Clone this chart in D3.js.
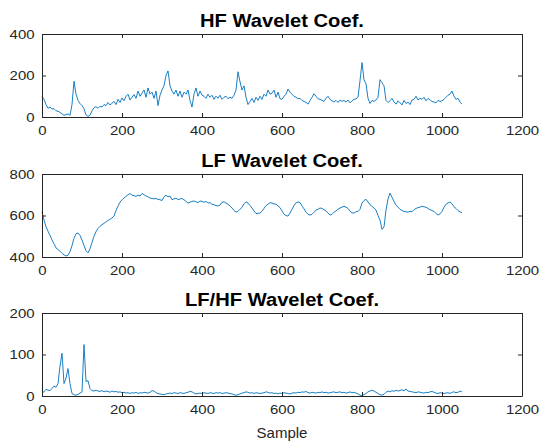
<!DOCTYPE html>
<html>
<head>
<meta charset="utf-8">
<script src="https://cdn.jsdelivr.net/npm/d3@7"></script>
<style>
  body { margin: 0; background: #fff; }
  text { font-family: "Liberation Sans", Arial, sans-serif; }
</style>
</head>
<body>
<script>
// one value every 5 samples
var sampleStep = 5;

var hfValues = [
  100,85,60,42,48,38,40,30,28,22,
  15,8,12,15,8,60,172,110,80,65,
  55,40,10,3,8,30,45,50,42,52,
  48,60,55,70,58,66,75,60,85,70,
  92,78,100,110,82,95,108,90,125,100,
  115,130,95,140,110,120,90,125,55,105,
  130,150,200,222,150,125,110,130,100,125,
  95,120,110,130,80,48,110,140,100,125,
  105,100,90,110,95,105,85,100,90,105,
  85,95,100,88,95,90,105,130,218,170,
  130,150,95,60,75,90,70,95,80,100,
  85,110,100,130,110,115,130,95,120,88,
  85,100,110,135,120,110,100,95,88,90,
  80,75,70,62,80,95,112,100,88,85,
  80,75,90,100,85,78,72,80,70,82,
  75,80,72,82,68,78,85,88,95,175,
  262,180,160,90,65,80,75,82,95,180,
  165,150,80,70,78,90,72,62,78,68,
  58,80,65,72,60,82,85,100,82,90,
  85,95,78,90,82,75,72,68,80,75,
  78,85,95,105,110,125,100,85,90,72,
  62
];

var lfValues = [
  618,578,546,524,504,482,464,444,436,428,
  418,410,405,408,425,455,490,512,516,504,
  482,455,430,420,440,470,500,522,538,548,
  556,562,570,576,582,588,598,624,645,664,
  676,684,692,700,706,698,696,692,698,694,
  706,700,694,690,684,682,680,682,678,676,
  672,690,698,690,694,676,680,684,676,680,
  682,676,668,660,664,668,670,666,662,670,
  668,664,668,660,662,654,652,648,646,650,
  664,666,660,654,646,636,624,616,620,630,
  640,656,666,660,648,636,622,610,610,612,
  620,634,648,654,662,660,656,654,646,638,
  622,606,600,597,612,630,648,661,665,662,
  646,632,616,606,602,606,616,626,630,636,
  634,628,622,612,602,606,616,622,630,636,
  640,645,640,634,622,612,612,618,620,630,
  660,672,678,665,652,644,636,626,600,578,
  533,545,626,680,708,688,668,650,640,630,
  624,620,618,616,620,618,628,634,638,640,
  645,642,640,634,628,624,620,610,602,608,
  620,640,654,660,665,656,642,634,624,618,
  613
];

var ratioValues = [
  8,10,16,14,13,18,24,21,30,72,
  103,30,43,66,30,6,3,2,4,7,
  10,124,35,37,18,13,12,14,12,11,
  13,10,12,11,9,12,10,11,9,10,
  8,9,7,8,6,8,7,9,6,8,
  7,9,8,7,9,13,12,8,6,5,
  4,3,5,6,7,6,8,7,6,8,
  7,6,8,9,11,10,7,5,6,7,
  6,8,7,6,8,7,6,8,7,8,
  6,7,8,7,6,5,3,2,3,5,
  7,8,10,9,7,8,6,8,7,6,
  7,8,10,9,7,8,6,7,5,7,
  6,8,7,6,5,7,8,7,9,8,
  10,9,11,8,7,9,8,7,9,8,
  10,8,9,7,8,9,10,8,9,10,
  8,9,7,8,10,8,9,7,5,2,
  1,3,6,10,12,14,12,9,6,3,
  2,4,9,12,10,13,11,14,12,13,
  15,12,17,12,11,10,9,8,10,9,
  8,7,9,8,10,11,9,7,6,8,
  7,6,7,8,6,9,10,8,9,12,
  10
];

var titles = ['HF Wavelet Coef.', 'LF Wavelet Coef.', 'LF/HF Wavelet Coef.'];
var xTicks = [0, 200, 400, 600, 800, 1000, 1200];
var hfTicks = [0, 200, 400];
var lfTicks = [400, 600, 800];
var ratioTicks = [0, 100, 200];
var xLabel = 'Sample';

var width = 539, height = 441;
var axLeft = 42, axRight = 522;
var panelTops = [34, 174, 313];
var panelBottoms = [117, 257, 396];
var axisColor = '#262626';
var lineColor = '#0072BD';
var textStretch = 1.15;
var titleStretch = 1.09;

var svg = d3.select('body').append('svg')
  .attr('width', width)
  .attr('height', height);

var x = d3.scaleLinear().domain([0, 1200]).range([axLeft, axRight]);
var fmt = d3.format('d');

var series = [hfValues, lfValues, ratioValues];
var yTickSets = [hfTicks, lfTicks, ratioTicks];

series.forEach(function(vals, i) {
  var ticks = yTickSets[i];
  var top = panelTops[i], bottom = panelBottoms[i];
  var y = d3.scaleLinear()
    .domain([ticks[0], ticks[ticks.length - 1]])
    .range([bottom, top]);

  var g = svg.append('g');

  // data line
  var line = d3.line()
    .x(function(d, j) { return x(j * sampleStep); })
    .y(function(d) { return y(d); });
  g.append('path')
    .datum(vals)
    .attr('d', line)
    .attr('fill', 'none')
    .attr('stroke', lineColor)
    .attr('stroke-width', 0.9);

  // axes, ticks inward like matlab
  var bottomAx = g.append('g')
    .attr('transform', 'translate(0,' + bottom + ')')
    .call(d3.axisBottom(x).tickValues(xTicks).tickFormat(fmt).tickSize(-4).tickSizeOuter(0).tickPadding(9));
  var topAx = g.append('g')
    .attr('transform', 'translate(0,' + top + ')')
    .call(d3.axisTop(x).tickValues(xTicks).tickSize(-4).tickSizeOuter(0).tickFormat(''));
  var leftAx = g.append('g')
    .attr('transform', 'translate(' + axLeft + ',0)')
    .call(d3.axisLeft(y).tickValues(ticks).tickFormat(fmt).tickSize(-4).tickSizeOuter(0));
  var rightAx = g.append('g')
    .attr('transform', 'translate(' + axRight + ',0)')
    .call(d3.axisRight(y).tickValues(ticks).tickSize(-4).tickSizeOuter(0).tickFormat(''));

  [bottomAx, topAx, leftAx, rightAx].forEach(function(a) {
    a.select('.domain').attr('stroke', axisColor);
    a.selectAll('.tick line').attr('stroke', axisColor);
  });

  bottomAx.selectAll('text')
    .attr('fill', axisColor)
    .style('font-size', '13px')
    .attr('transform', 'scale(' + textStretch + ',1)')
    .attr('x', 0);
  leftAx.selectAll('text')
    .attr('fill', axisColor)
    .style('font-size', '13px')
    .attr('x', 0)
    .attr('transform', 'translate(-7.5,0) scale(' + textStretch + ',1)');

  svg.append('text')
    .attr('transform', 'translate(' + ((axLeft + axRight) / 2) + ',' + (top - 7.5) + ') scale(' + titleStretch + ',1)')
    .attr('text-anchor', 'middle')
    .style('font-size', '18.5px')
    .style('font-weight', 'bold')
    .attr('fill', '#000')
    .text(titles[i]);
});

svg.append('text')
  .attr('x', (axLeft + axRight) / 2)
  .attr('y', 437.5)
  .attr('text-anchor', 'middle')
  .style('font-size', '15px')
  .attr('fill', axisColor)
  .text(xLabel);
</script>
</body>
</html>
